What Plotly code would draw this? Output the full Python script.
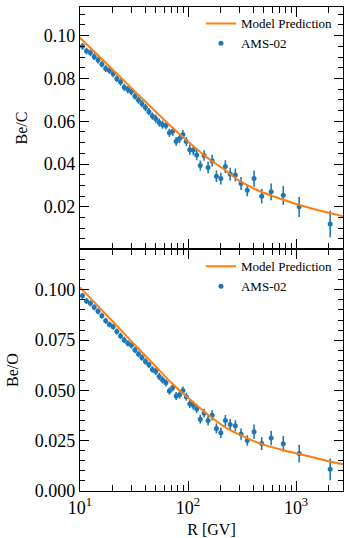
import plotly.graph_objects as go

# Rigidity bin centres [GV] (AMS-02 binning)
R = [10.54, 11.49, 12.49, 13.54, 14.69, 15.94, 17.29, 18.73, 20.28, 21.93,
     23.73, 25.68, 27.73, 29.93, 32.28, 34.78, 37.47, 40.37, 43.47, 46.77,
     50.32, 54.12, 58.16, 62.51, 67.21, 72.25, 77.65, 83.45, 89.69, 96.44,
     103.9, 111.9, 120.4, 129.9, 140.9, 153.4, 167.3, 183.3, 201.3, 221.7,
     245.7, 274.5, 309.9, 353.6, 408.8, 481.2, 588.6, 762.1, 1069.6, 2071]

BeC = [0.0950, 0.0928, 0.0920, 0.0902, 0.0886, 0.0867, 0.0846, 0.0837, 0.0822, 0.0799,
       0.0783, 0.0759, 0.0748, 0.0738, 0.0717, 0.0699, 0.0682, 0.0664, 0.0645, 0.0624,
       0.0612, 0.0594, 0.0584, 0.0580, 0.0546, 0.0553, 0.0506, 0.0519, 0.0538, 0.0505,
       0.0467, 0.0465, 0.0442, 0.0393, 0.0440, 0.0384, 0.0416, 0.0343, 0.0332, 0.0388,
       0.0353, 0.0349, 0.0309, 0.0277, 0.0332, 0.0250, 0.0270, 0.0254, 0.0200, 0.0120]
BeC_err = [0.0016] * 10 + [0.0017] * 10 + [0.0019] * 5 + [0.0021] * 5 + [0.0024] * 5 + \
          [0.0027] * 4 + [0.0030] * 4 + [0.0028, 0.0038, 0.0034, 0.0039, 0.0044, 0.0047, 0.0062]

BeO = [0.0970, 0.0945, 0.0933, 0.0913, 0.0893, 0.0871, 0.0846, 0.0828, 0.0816, 0.0793,
       0.0771, 0.0751, 0.0734, 0.0724, 0.0701, 0.0681, 0.0664, 0.0644, 0.0627, 0.0604,
       0.0594, 0.0569, 0.0552, 0.0538, 0.0497, 0.0515, 0.0472, 0.0479, 0.0500, 0.0469,
       0.0434, 0.0426, 0.0409, 0.0357, 0.0387, 0.0351, 0.0376, 0.0311, 0.0289, 0.0350,
       0.0330, 0.0324, 0.0283, 0.0251, 0.0294, 0.0236, 0.0263, 0.0235, 0.0186, 0.0108]
BeO_err = [0.0015] * 10 + [0.0016] * 10 + [0.0018] * 5 + [0.0020] * 5 + [0.0022] * 5 + \
          [0.0025] * 4 + [0.0028] * 4 + [0.0026, 0.0036, 0.0032, 0.0036, 0.0039, 0.0044, 0.0054]

model_R = [10, 20, 30, 50, 70, 100, 150, 220, 300, 460, 750, 1050, 2000, 2750]
model_BeC = [0.0990, 0.0842, 0.0755, 0.0646, 0.0575, 0.0505, 0.0430, 0.0372,
             0.0321, 0.0273, 0.0234, 0.0210, 0.0172, 0.0155]
model_BeO = [0.1012, 0.0844, 0.0744, 0.0620, 0.0538, 0.0463, 0.0383, 0.0318,
             0.0280, 0.0237, 0.0204, 0.0185, 0.0148, 0.0133]

x_tickvals = [10, 100, 1000]
x_ticktext = ["10<sup>1</sup>", "10<sup>2</sup>", "10<sup>3</sup>"]
x_minor = [20, 30, 40, 50, 60, 70, 80, 90, 200, 300, 400, 500, 600, 700, 800, 900, 2000]

BLUE = "#1f77b4"
ORANGE = "#ff7f0e"
FONT = "Liberation Serif"

fig = go.Figure()

panels = [
    ("x", "y", BeC, BeC_err, model_BeC, "legend"),
    ("x2", "y2", BeO, BeO_err, model_BeO, "legend2"),
]
for xa, ya, data, err, model, leg in panels:
    fig.add_trace(go.Scatter(
        x=R, y=data, mode="markers", name="AMS-02",
        marker=dict(color=BLUE, size=5),
        error_y=dict(type="data", array=err, color=BLUE, thickness=1.6, width=0),
        xaxis=xa, yaxis=ya, legend=leg, legendrank=2,
    ))
    fig.add_trace(go.Scatter(
        x=model_R, y=model, mode="lines", name="Model Prediction",
        line=dict(color=ORANGE, width=2, shape="spline", smoothing=0.6),
        xaxis=xa, yaxis=ya, legend=leg, legendrank=1,
    ))

xcommon = dict(
    type="log", range=[1, 3.435], showgrid=False, zeroline=False, automargin=False,
    showline=True, linecolor="black", linewidth=1.2, mirror="allticks",
    ticks="inside", ticklen=10, tickwidth=1.1, tickcolor="black",
    tickmode="array", tickvals=x_tickvals, ticktext=x_ticktext,
    minor=dict(tickmode="array", tickvals=x_minor, ticks="inside",
               ticklen=6, tickwidth=1, tickcolor="black", showgrid=False),
    tickfont=dict(family=FONT, size=18, color="black"),
)
ycommon = dict(
    showgrid=False, zeroline=False, showline=True, linecolor="black", automargin=False,
    linewidth=1.2, mirror="allticks", ticks="inside", ticklen=9,
    tickwidth=1.1, tickcolor="black",
    tickfont=dict(family=FONT, size=18, color="black"),
    minor=dict(dtick=0.005, ticks="inside", ticklen=5, tickwidth=1,
               tickcolor="black", showgrid=False),
)

fig.update_layout(
    width=344, height=538,
    margin=dict(l=80, r=1, t=7, b=47),
    paper_bgcolor="white", plot_bgcolor="white",
    font=dict(family=FONT, size=16, color="black"),
    xaxis=dict(**xcommon, anchor="y", showticklabels=False, matches="x2"),
    xaxis2=dict(**xcommon, anchor="y2",
                title=dict(text="R [GV]", font=dict(family=FONT, size=16), standoff=14)),
    yaxis=dict(**ycommon, domain=[0.5, 1], anchor="x", range=[0.0003, 0.1134],
               tickmode="array", tickvals=[0.02, 0.04, 0.06, 0.08, 0.10],
               ticktext=["0.02", "0.04", "0.06", "0.08", "0.10"],
               title=dict(text="Be/C", font=dict(family=FONT, size=16), standoff=12)),
    yaxis2=dict(**ycommon, domain=[0, 0.5], anchor="x2", range=[0, 0.1203],
                tickmode="array", tickvals=[0, 0.025, 0.05, 0.075, 0.1],
                ticktext=["0.000", "0.025", "0.050", "0.075", "0.100"],
                title=dict(text="Be/O", font=dict(family=FONT, size=16), standoff=12)),
    legend=dict(x=0.46, y=0.997, xanchor="left", yanchor="top",
                bgcolor="rgba(255,255,255,0)", font=dict(family=FONT, size=13),
                tracegroupgap=0, itemwidth=30),
    legend2=dict(x=0.46, y=0.495, xanchor="left", yanchor="top",
                 bgcolor="rgba(255,255,255,0)", font=dict(family=FONT, size=13),
                 tracegroupgap=0, itemwidth=30),
    showlegend=True,
)

fig.write_html("out.html", config={"displayModeBar": False},
               post_script="document.body.style.margin='0px';")
